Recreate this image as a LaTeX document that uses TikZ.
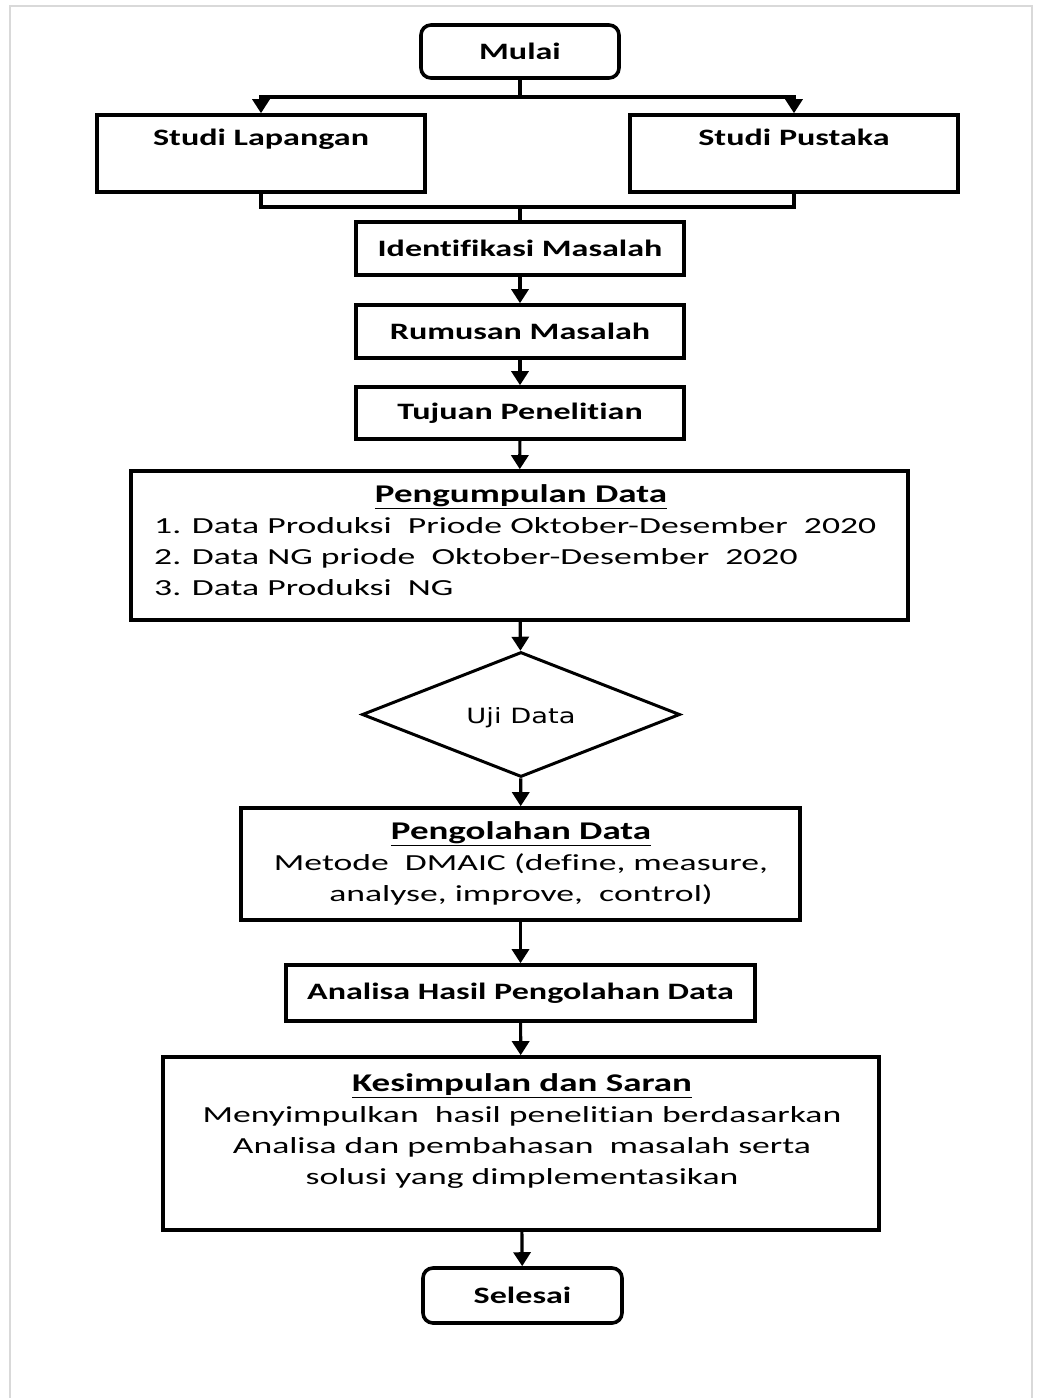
\documentclass[tikz,border=0pt]{standalone}
\usepackage{fontspec}
\setmainfont{Carlito}[Ligatures=NoCommon]
\newfontfamily\bodyfont{Carlito}[FakeStretch=1.55, Ligatures=NoCommon]
\newfontfamily\headfont{Carlito}[FakeStretch=1.45, Ligatures=NoCommon]
\newfontfamily\diafont{DejaVu Sans}[FakeStretch=1.3]
\newcommand{\boxtitle}[1]{{\headfont\bfseries\fontsize{25.5}{31}\selectfont\underline{#1}}}
\usetikzlibrary{arrows.meta,shapes.geometric}

\begin{document}
\begin{tikzpicture}[x=1pt,y=-1pt,
  frame/.style={draw=black!15, line width=2.5pt},
  box/.style={draw, line width=3.6pt, rectangle, inner sep=0pt},
  head/.style={font=\headfont\bfseries\fontsize{23.5}{30.5}\selectfont},
  body/.style={font=\bodyfont\fontsize{23}{31}\selectfont},
  term/.style={box, rounded corners=10pt, head},
  conn/.style={line width=3.2pt},
  arr/.style={conn, -{Triangle[width=17pt,length=14pt]}}]

% page and grey outer frame
\useasboundingbox (0,0) rectangle (1037,1398);
\draw[frame] (10,1400) -- (10,6) -- (1032,6) -- (1032,1400);

% start and the two studies
\node[term, minimum width=198pt, minimum height=53pt] (mulai) at (520,51.5) {Mulai};
\node[box, head, minimum width=328pt, minimum height=77pt, text height=16pt, text depth=33pt]
  (sl) at (261,153.5) {Studi Lapangan};
\node[box, head, minimum width=328pt, minimum height=77pt, text height=16pt, text depth=33pt]
  (sp) at (794,153.5) {Studi Pustaka};

% problem definition steps
\node[box, head, minimum width=328pt, minimum height=53pt] (im) at (520,248.5) {Identifikasi Masalah};
\node[box, head, minimum width=328pt, minimum height=53pt] (rm) at (520,331.5) {Rumusan Masalah};
\node[box, head, minimum width=328pt, minimum height=52pt] (tp) at (520,413) {Tujuan Penelitian};

% data collection
\node[box, minimum width=777pt, minimum height=149pt] (pd) at (519.5,545.5) {};
\node[inner sep=0pt] (pdt) at (521,497) {\boxtitle{Pengumpulan Data}};
\node[body, inner sep=0pt, anchor=west, align=left] (pdl) at (154,557)
  {1. Data Produksi\ \ Priode Oktober-Desember\ \ 2020\\
   2. Data NG priode\ \ Oktober-Desember\ \ 2020\\
   3. Data Produksi\ \ NG};

% decision
\node[draw, diamond, line width=3pt, minimum width=318pt, minimum height=125pt, inner sep=0pt,
  font=\diafont\fontsize{21}{25}\selectfont] (uji) at (521,714.5) {\raisebox{-9pt}[0pt][0pt]{Uji Data}};

% processing
\node[box, minimum width=559pt, minimum height=112pt] (pgo) at (520.5,864) {};
\node[inner sep=0pt, align=center, body] (pgot) at (521,863)
  {\boxtitle{Pengolahan Data}\\
   Metode\ \ DMAIC (define, measure,\\
   analyse, improve,\ \ control)};

\node[box, head, minimum width=469pt, minimum height=56pt] (ah) at (520.5,993) {Analisa Hasil Pengolahan Data};

% conclusion
\node[box, minimum width=716pt, minimum height=173pt] (ks) at (521,1143.5) {};
\node[inner sep=0pt, align=center, body] (kst) at (522,1131)
  {\boxtitle{Kesimpulan dan Saran}\\
   Menyimpulkan\ \ hasil penelitian berdasarkan\\
   Analisa dan pembahasan\ \ masalah serta\\
   solusi yang dimplementasikan};

\node[term, minimum width=199pt, minimum height=55pt] (sel) at (522.5,1295.5) {Selesai};

% connectors
\coordinate (split) at (520,97);
\coordinate (merge) at (520,207);
\draw[conn] (mulai.south) -- (split);
\draw[arr] (split) -| (sl.north);
\draw[arr] (split) -| (sp.north);
\draw[conn] (sl.south) |- (merge);
\draw[conn] (sp.south) |- (merge);
\draw[conn] (merge) -- (im.north);
\draw[arr] (im) -- (rm);
\draw[arr] (rm) -- (tp);
\draw[arr] (tp) -- (pd);
\draw[arr] (pd) -- (uji);
\draw[arr] (uji) -- (pgo);
\draw[arr] (pgo) -- (ah);
\draw[arr] (ah) -- (ks);
\draw[arr] (ks) -- (sel);
\end{tikzpicture}
\end{document}
